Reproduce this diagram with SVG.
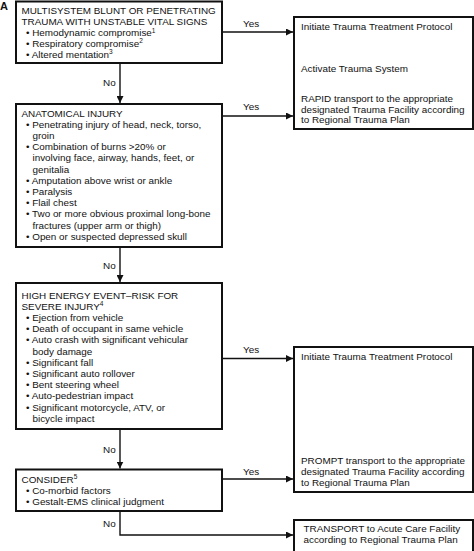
<svg xmlns="http://www.w3.org/2000/svg" width="474" height="551" viewBox="0 0 474 551">
<style>
text{font-family:"Liberation Sans",Arial,sans-serif;font-size:9.9px;fill:#111}
.box{fill:#fff;stroke:#111;stroke-width:2}
.ln{fill:none;stroke:#111;stroke-width:1.4}
.sup{font-size:6.5px}
</style>
<defs>
<marker id="ah" viewBox="0 0 10 10" refX="10" refY="5" markerWidth="7" markerHeight="7" markerUnits="userSpaceOnUse" orient="auto">
<path d="M0,0 L10,5 L0,10 Z" fill="#111"/>
</marker>
</defs>
<rect width="474" height="551" fill="#fff"/>
<text x="0" y="9.5" style="font-weight:bold;font-size:11px">A</text>

<g id="connectors">
<path class="ln" d="M120,63 V103" marker-end="url(#ah)"/>
<path class="ln" d="M120,247 V282" marker-end="url(#ah)"/>
<path class="ln" d="M120,429 V468.5" marker-end="url(#ah)"/>
<path class="ln" d="M120,511 V535 H293" marker-end="url(#ah)"/>
<path class="ln" d="M222,32 H293" marker-end="url(#ah)"/>
<path class="ln" d="M222,116 H293" marker-end="url(#ah)"/>
<path class="ln" d="M222,358.5 H293" marker-end="url(#ah)"/>
<path class="ln" d="M222,479 H293" marker-end="url(#ah)"/>
<text x="103" y="86">No</text>
<text x="103" y="269">No</text>
<text x="103" y="453">No</text>
<text x="103" y="527">No</text>
<text x="243" y="27">Yes</text>
<text x="243" y="110">Yes</text>
<text x="243" y="353">Yes</text>
<text x="243" y="475">Yes</text>
</g>

<g id="n1">
<rect class="box" x="16" y="1.5" width="206" height="61.5"/>
<text x="21.5" y="13.5">MULTISYSTEM BLUNT OR PENETRATING</text>
<text x="21.5" y="25">TRAUMA WITH UNSTABLE VITAL SIGNS</text>
<text x="26" y="36">• Hemodynamic compromise<tspan class="sup" dy="-3.5">1</tspan></text>
<text x="26" y="46.8">• Respiratory compromise<tspan class="sup" dy="-3.5">2</tspan></text>
<text x="26" y="57.5">• Altered mentation<tspan class="sup" dy="-3.5">3</tspan></text>
</g>

<g id="n2">
<rect class="box" x="16" y="104" width="206" height="143"/>
<text x="21.5" y="116.5">ANATOMICAL INJURY</text>
<text x="26" y="127.7">• Penetrating injury of head, neck, torso,</text>
<text x="32.5" y="138.9">groin</text>
<text x="26" y="150.1">• Combination of burns &gt;20% or</text>
<text x="32.5" y="161.3">involving face, airway, hands, feet, or</text>
<text x="32.5" y="172.5">genitalia</text>
<text x="26" y="183.7">• Amputation above wrist or ankle</text>
<text x="26" y="194.9">• Paralysis</text>
<text x="26" y="206.1">• Flail chest</text>
<text x="26" y="217.3">• Two or more obvious proximal long-bone</text>
<text x="32.5" y="228.5">fractures (upper arm or thigh)</text>
<text x="26" y="239.7">• Open or suspected depressed skull</text>
</g>

<g id="n3">
<rect class="box" x="16" y="283" width="206" height="146"/>
<text x="21.5" y="298.5">HIGH ENERGY EVENT–RISK FOR</text>
<text x="21.5" y="309.7">SEVERE INJURY<tspan class="sup" dy="-3.5">4</tspan></text>
<text x="26" y="320.9">• Ejection from vehicle</text>
<text x="26" y="332.1">• Death of occupant in same vehicle</text>
<text x="26" y="343.3">• Auto crash with significant vehicular</text>
<text x="32.5" y="354.5">body damage</text>
<text x="26" y="365.7">• Significant fall</text>
<text x="26" y="376.9">• Significant auto rollover</text>
<text x="26" y="388.1">• Bent steering wheel</text>
<text x="26" y="399.3">• Auto-pedestrian impact</text>
<text x="26" y="410.5">• Significant motorcycle, ATV, or</text>
<text x="32.5" y="421.7">bicycle impact</text>
</g>

<g id="n4">
<rect class="box" x="16" y="469.5" width="206" height="41.5"/>
<text x="21.5" y="482.8">CONSIDER<tspan class="sup" dy="-3.5">5</tspan></text>
<text x="26" y="494">• Co-morbid factors</text>
<text x="26" y="505">• Gestalt-EMS clinical judgment</text>
</g>

<g id="r1">
<rect class="box" x="294" y="17" width="179" height="112"/>
<text x="301" y="30">Initiate Trauma Treatment Protocol</text>
<text x="301" y="71.5">Activate Trauma System</text>
<text x="301" y="101.7">RAPID transport to the appropriate</text>
<text x="301" y="112.5">designated Trauma Facility according</text>
<text x="301" y="123.3">to Regional Trauma Plan</text>
</g>

<g id="r2">
<rect class="box" x="294" y="347" width="179" height="145"/>
<text x="301" y="360">Initiate Trauma Treatment Protocol</text>
<text x="301" y="464">PROMPT transport to the appropriate</text>
<text x="301" y="474.8">designated Trauma Facility according</text>
<text x="301" y="485.6">to Regional Trauma Plan</text>
</g>

<g id="r3">
<rect class="box" x="294" y="520" width="179" height="34"/>
<text x="303.5" y="532.3">TRANSPORT to Acute Care Facility</text>
<text x="303.5" y="543">according to Regional Trauma Plan</text>
</g>
</svg>
